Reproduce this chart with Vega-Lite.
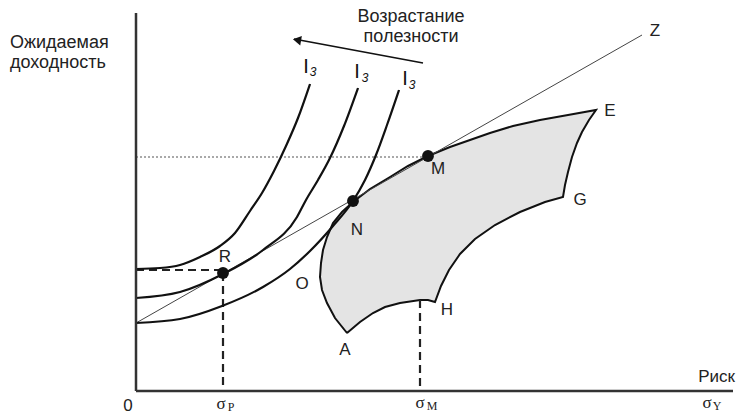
{
  "$schema": "https://vega.github.io/schema/vega-lite/v6.json",
  "width": 600,
  "height": 378,
  "autosize": "none",
  "padding": {"left": 136, "top": 13, "right": 0, "bottom": 25},
  "background": "white",
  "config": {"view": {"stroke": null}},
  "datasets": {
    "frame": [{"x": 0, "y": 0, "x2": 0, "y2": 378}, {"x": 0, "y": 0, "x2": 597, "y2": 0}],
    "dashed": [{"x": 0, "y": 121, "x2": 87, "y2": 121}, {"x": 87, "y": 118, "x2": 87, "y2": 0}, {"x": 284, "y": 91, "x2": 284, "y2": 0}],
    "dotted": [{"x": 0, "y": 234, "x2": 292, "y2": 234}],
    "cml": [{"x": 0, "y": 68, "x2": 506, "y2": 356}],
    "arrow": [{"x": 287, "y": 328, "x2": 158, "y2": 352}],
    "arrowhead": [{"x": 161, "y": 351}],
    "curves": [
      {"c": "I1", "i": 0, "x": 0, "y": 122}, {"c": "I1", "i": 1, "x": 24, "y": 123}, {"c": "I1", "i": 2, "x": 44, "y": 126},
      {"c": "I1", "i": 3, "x": 64, "y": 134}, {"c": "I1", "i": 4, "x": 84, "y": 145}, {"c": "I1", "i": 5, "x": 99, "y": 158},
      {"c": "I1", "i": 6, "x": 114, "y": 180}, {"c": "I1", "i": 7, "x": 126, "y": 198}, {"c": "I1", "i": 8, "x": 138, "y": 220},
      {"c": "I1", "i": 9, "x": 150, "y": 245}, {"c": "I1", "i": 10, "x": 162, "y": 273}, {"c": "I1", "i": 11, "x": 174, "y": 307},
      {"c": "I2", "i": 0, "x": 0, "y": 93}, {"c": "I2", "i": 1, "x": 44, "y": 99}, {"c": "I2", "i": 2, "x": 87, "y": 117},
      {"c": "I2", "i": 3, "x": 127, "y": 141}, {"c": "I2", "i": 4, "x": 161, "y": 174}, {"c": "I2", "i": 5, "x": 170, "y": 191},
      {"c": "I2", "i": 6, "x": 182, "y": 211}, {"c": "I2", "i": 7, "x": 194, "y": 233}, {"c": "I2", "i": 8, "x": 208, "y": 265},
      {"c": "I2", "i": 9, "x": 222, "y": 303},
      {"c": "I3", "i": 0, "x": 0, "y": 68}, {"c": "I3", "i": 1, "x": 44, "y": 72}, {"c": "I3", "i": 2, "x": 86, "y": 85},
      {"c": "I3", "i": 3, "x": 127, "y": 104}, {"c": "I3", "i": 4, "x": 154, "y": 122}, {"c": "I3", "i": 5, "x": 174, "y": 140},
      {"c": "I3", "i": 6, "x": 197, "y": 165}, {"c": "I3", "i": 7, "x": 217, "y": 190}, {"c": "I3", "i": 8, "x": 229, "y": 211},
      {"c": "I3", "i": 9, "x": 240, "y": 236}, {"c": "I3", "i": 10, "x": 251, "y": 266}, {"c": "I3", "i": 11, "x": 263, "y": 301}
    ],
    "region": [
      {"i": 0, "x": 211, "y": 58}, {"i": 1, "x": 199, "y": 73}, {"i": 2, "x": 191, "y": 88}, {"i": 3, "x": 186, "y": 101},
      {"i": 4, "x": 184, "y": 114}, {"i": 5, "x": 185, "y": 128}, {"i": 6, "x": 187, "y": 141}, {"i": 7, "x": 191, "y": 154},
      {"i": 8, "x": 197, "y": 168}, {"i": 9, "x": 206, "y": 179}, {"i": 10, "x": 217, "y": 189}, {"i": 11, "x": 234, "y": 202},
      {"i": 12, "x": 254, "y": 214}, {"i": 13, "x": 272, "y": 225}, {"i": 14, "x": 292, "y": 235}, {"i": 15, "x": 314, "y": 244},
      {"i": 16, "x": 334, "y": 251}, {"i": 17, "x": 354, "y": 258}, {"i": 18, "x": 377, "y": 265}, {"i": 19, "x": 404, "y": 271},
      {"i": 20, "x": 432, "y": 276}, {"i": 21, "x": 460, "y": 281}, {"i": 22, "x": 453, "y": 271}, {"i": 23, "x": 446, "y": 259},
      {"i": 24, "x": 441, "y": 248}, {"i": 25, "x": 436, "y": 234}, {"i": 26, "x": 432, "y": 219}, {"i": 27, "x": 429, "y": 206},
      {"i": 28, "x": 427, "y": 194}, {"i": 29, "x": 409, "y": 189}, {"i": 30, "x": 384, "y": 179}, {"i": 31, "x": 359, "y": 166},
      {"i": 32, "x": 339, "y": 152}, {"i": 33, "x": 324, "y": 137}, {"i": 34, "x": 313, "y": 121}, {"i": 35, "x": 305, "y": 105},
      {"i": 36, "x": 299, "y": 89}, {"i": 37, "x": 292, "y": 91}, {"i": 38, "x": 284, "y": 91}, {"i": 39, "x": 264, "y": 88},
      {"i": 40, "x": 249, "y": 84}, {"i": 41, "x": 237, "y": 78}, {"i": 42, "x": 224, "y": 69}, {"i": 43, "x": 211, "y": 58}
    ],
    "points": [{"name": "R", "x": 87, "y": 118}, {"name": "N", "x": 217, "y": 190}, {"name": "M", "x": 292, "y": 235}],
    "heading": [{"t": "Возрастание", "x": 275, "y": 374}, {"t": "полезности", "x": 275, "y": 354}],
    "ytitle": [{"t": "Ожидаемая", "x": -126, "y": 348}, {"t": "доходность", "x": -126, "y": 328}],
    "letters": [
      {"t": "R", "x": 89, "y": 134}, {"t": "N", "x": 221, "y": 161}, {"t": "M", "x": 302, "y": 222},
      {"t": "E", "x": 474, "y": 280}, {"t": "G", "x": 444, "y": 191}, {"t": "H", "x": 311, "y": 81},
      {"t": "A", "x": 209, "y": 41}, {"t": "O", "x": 166, "y": 107}, {"t": "Z", "x": 519, "y": 360},
      {"t": "0", "x": -8, "y": -15}
    ],
    "xtitle": [{"t": "Риск", "x": 599, "y": 14}],
    "sigma": [{"t": "σ", "x": 85, "y": -13}, {"t": "σ", "x": 284, "y": -12}, {"t": "σ", "x": 571, "y": -12}],
    "sub": [{"t": "P", "x": 95, "y": -16}, {"t": "M", "x": 296, "y": -15}, {"t": "Y", "x": 581, "y": -15}],
    "ilabel": [{"t": "I", "x": 170, "y": 324}, {"t": "I", "x": 221, "y": 319}, {"t": "I", "x": 269, "y": 312}],
    "isub": [{"t": "3", "x": 177, "y": 319}, {"t": "3", "x": 229, "y": 313}, {"t": "3", "x": 276, "y": 306}]
  },
  "encoding": {
    "x": {"field": "x", "type": "quantitative", "scale": {"domain": [0, 600], "nice": false, "zero": false}, "axis": null},
    "y": {"field": "y", "type": "quantitative", "scale": {"domain": [0, 378], "nice": false, "zero": false}, "axis": null}
  },
  "layer": [
    {"data": {"name": "region"}, "mark": {"type": "line", "fill": "#e4e4e4", "stroke": "#111", "strokeWidth": 2, "strokeJoin": "miter"},
     "encoding": {"order": {"field": "i", "type": "quantitative"}}},
    {"data": {"name": "dotted"}, "mark": {"type": "rule", "stroke": "#555", "strokeWidth": 1.2, "strokeDash": [2, 2]},
     "encoding": {"x2": {"field": "x2"}, "y2": {"field": "y2"}}},
    {"data": {"name": "dashed"}, "mark": {"type": "rule", "stroke": "#222", "strokeWidth": 2.2, "strokeDash": [8, 5]},
     "encoding": {"x2": {"field": "x2"}, "y2": {"field": "y2"}}},
    {"data": {"name": "cml"}, "mark": {"type": "rule", "stroke": "#444", "strokeWidth": 1},
     "encoding": {"x2": {"field": "x2"}, "y2": {"field": "y2"}}},
    {"data": {"name": "curves"}, "mark": {"type": "line", "stroke": "#111", "strokeWidth": 2.2, "interpolate": "monotone"},
     "encoding": {"detail": {"field": "c"}, "order": {"field": "i", "type": "quantitative"}}},
    {"data": {"name": "arrow"}, "mark": {"type": "rule", "stroke": "#111", "strokeWidth": 1.5},
     "encoding": {"x2": {"field": "x2"}, "y2": {"field": "y2"}}},
    {"data": {"name": "arrowhead"}, "mark": {"type": "point", "shape": "triangle-left", "angle": 10, "filled": true, "color": "#111", "size": 90, "opacity": 1}},
    {"data": {"name": "points"}, "mark": {"type": "point", "shape": "circle", "filled": true, "color": "#111", "size": 140, "opacity": 1}},
    {"data": {"name": "frame"}, "mark": {"type": "rule", "stroke": "#333", "strokeWidth": 2.5},
     "encoding": {"x2": {"field": "x2"}, "y2": {"field": "y2"}}},
    {"data": {"name": "heading"}, "mark": {"type": "text", "font": "Liberation Sans", "fontSize": 18, "align": "center", "baseline": "middle", "color": "#222"},
     "encoding": {"text": {"field": "t"}}},
    {"data": {"name": "ytitle"}, "mark": {"type": "text", "font": "Liberation Sans", "fontSize": 18, "align": "left", "baseline": "middle", "color": "#222"},
     "encoding": {"text": {"field": "t"}}},
    {"data": {"name": "letters"}, "mark": {"type": "text", "font": "Liberation Sans", "fontSize": 17, "align": "center", "baseline": "middle", "color": "#222"},
     "encoding": {"text": {"field": "t"}}},
    {"data": {"name": "xtitle"}, "mark": {"type": "text", "font": "Liberation Sans", "fontSize": 17, "align": "right", "baseline": "middle", "color": "#222"},
     "encoding": {"text": {"field": "t"}}},
    {"data": {"name": "sigma"}, "mark": {"type": "text", "font": "Liberation Serif", "fontSize": 17, "align": "center", "baseline": "middle", "color": "#222"},
     "encoding": {"text": {"field": "t"}}},
    {"data": {"name": "sub"}, "mark": {"type": "text", "font": "Liberation Serif", "fontSize": 12, "align": "center", "baseline": "middle", "color": "#222"},
     "encoding": {"text": {"field": "t"}}},
    {"data": {"name": "ilabel"}, "mark": {"type": "text", "font": "Liberation Sans", "fontSize": 20, "align": "center", "baseline": "middle", "color": "#111"},
     "encoding": {"text": {"field": "t"}}},
    {"data": {"name": "isub"}, "mark": {"type": "text", "font": "Liberation Sans", "fontSize": 12, "fontStyle": "italic", "align": "center", "baseline": "middle", "color": "#111"},
     "encoding": {"text": {"field": "t"}}}
  ]
}
